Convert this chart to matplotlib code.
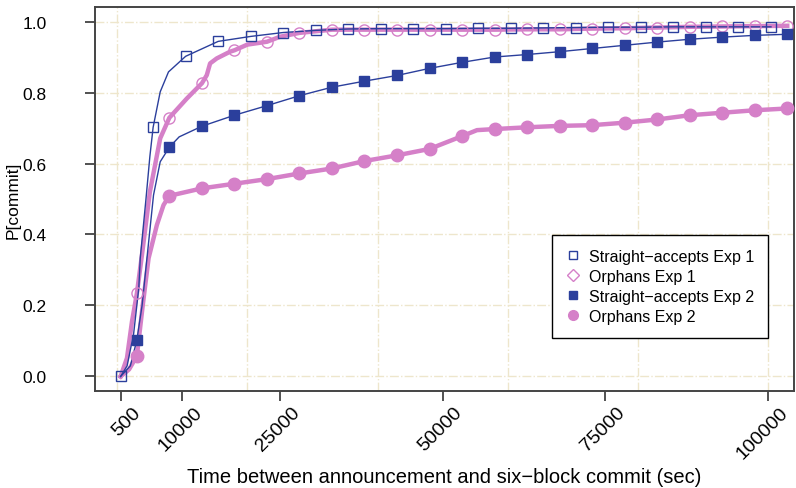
import matplotlib
matplotlib.use('Agg')
import matplotlib.pyplot as plt
import matplotlib.transforms as mtransforms
from matplotlib.lines import Line2D

plt.rcParams['font.family'] = ['Liberation Sans', 'DejaVu Sans']

# marker positions (sec) and values
mk_x1 = [500 + 5000 * k for k in range(21)]
mk_x2 = [3000 + 5000 * k for k in range(21)]

sa1_mk = [0.0, 0.702, 0.902, 0.944, 0.958, 0.969, 0.975, 0.979, 0.980, 0.980, 0.980,
          0.981, 0.981, 0.982, 0.983, 0.984, 0.984, 0.985, 0.985, 0.985, 0.985]
or1_mk = [0.234, 0.729, 0.826, 0.919, 0.943, 0.968, 0.977, 0.977, 0.977, 0.977, 0.977,
          0.977, 0.978, 0.978, 0.980, 0.981, 0.983, 0.985, 0.986, 0.987, 0.988]
sa2_mk = [0.103, 0.646, 0.705, 0.736, 0.763, 0.791, 0.815, 0.832, 0.848, 0.868, 0.885,
          0.900, 0.907, 0.915, 0.924, 0.933, 0.942, 0.950, 0.956, 0.961, 0.964]
or2_mk = [0.058, 0.509, 0.530, 0.543, 0.556, 0.572, 0.586, 0.607, 0.623, 0.641, 0.677,
          0.697, 0.702, 0.706, 0.708, 0.715, 0.724, 0.736, 0.743, 0.750, 0.755]

# extra curve points between the markers (mostly the steep start)
sa1_pts_x = [1500, 2500, 3300, 3520, 4400, 5000, 6590, 7860]
sa1_pts_y = [0.03, 0.12, 0.25, 0.333, 0.50, 0.62, 0.802, 0.858]
or1_pts_x = [500, 1480, 2250, 3780, 5000, 6590, 10680, 13750, 14260, 15280, 17330, 20000, 25000]
or1_pts_y = [0.0, 0.052, 0.155, 0.342, 0.52, 0.671, 0.783, 0.849, 0.882, 0.896, 0.915, 0.935, 0.957]
sa2_pts_x = [500, 2000, 3800, 4550, 5560, 6590, 9500]
sa2_pts_y = [0.0, 0.03, 0.20, 0.333, 0.511, 0.605, 0.675]
or2_pts_x = [500, 1800, 3900, 4800, 6080, 7100, 55300]
or2_pts_y = [0.0, 0.02, 0.20, 0.333, 0.427, 0.483, 0.694]

blue = '#2B3F9C'
pink = '#D580C8'


def curve(px, py, mx, my):
    pts = sorted(list(zip(px, py)) + list(zip(mx, my)))
    return [p[0] for p in pts], [p[1] for p in pts]


fig = plt.figure(figsize=(7.96, 4.89), dpi=100)
ax = fig.add_axes([0.119, 0.199, 0.878, 0.784])

for gx in range(0, 100001, 20000):
    ax.axvline(gx, color='#EEE6CC', lw=1, ls='-.', zorder=0)
for gy in [0, 0.2, 0.4, 0.6, 0.8, 1.0]:
    ax.axhline(gy, color='#EEE6CC', lw=1, ls='-.', zorder=0)

x, y = curve(sa1_pts_x, sa1_pts_y, mk_x1, sa1_mk)
ax.plot(x, y, color=blue, lw=1.0, zorder=3)
ax.plot(mk_x1, sa1_mk, ls='none', marker='s', ms=7, mfc='none', mec=blue, mew=1, zorder=4)

x, y = curve(or1_pts_x, or1_pts_y, mk_x2, or1_mk)
ax.plot(x, y, color=pink, lw=3.2, zorder=2)
ax.plot(mk_x2, or1_mk, ls='none', marker='o', ms=8, mfc='none', mec=pink, mew=1, zorder=4)

x, y = curve(sa2_pts_x, sa2_pts_y, mk_x2, sa2_mk)
ax.plot(x, y, color=blue, lw=1.0, zorder=3)
ax.plot(mk_x2, sa2_mk, ls='none', marker='s', ms=7.5, color=blue, zorder=4)

x, y = curve(or2_pts_x, or2_pts_y, mk_x2, or2_mk)
ax.plot(x, y, color=pink, lw=3.2, zorder=2)
ax.plot(mk_x2, or2_mk, ls='none', marker='o', ms=9, color=pink, zorder=4)

ax.set_xlim(-3480, 103980)
ax.set_ylim(-0.04, 1.04)
ax.set_xticks([500, 10000, 25000, 50000, 75000, 100000])
ax.set_xticklabels(['500', '10000', '25000', '50000', '75000', '100000'],
                   rotation=45, ha='right', va='center', rotation_mode='anchor')
ax.set_yticks([0, 0.2, 0.4, 0.6, 0.8, 1.0])
ax.set_yticklabels(['0.0', '0.2', '0.4', '0.6', '0.8', '1.0'])
ax.tick_params(direction='out', length=7.5, width=1.2, color='#333333')
ax.tick_params(axis='x', pad=6, labelsize=14)
ax.tick_params(axis='y', pad=27, labelsize=12.5)
shift = mtransforms.ScaledTranslation(12.5 / 72, 0, fig.dpi_scale_trans)
for lab in ax.get_xticklabels():
    lab.set_transform(lab.get_transform() + shift)
for s in ax.spines.values():
    s.set_color('#444444')
    s.set_linewidth(1.4)
ax.set_xlabel('Time between announcement and six\u2212block commit (sec)', fontsize=14.5)
ax.xaxis.set_label_coords(0.5, -0.2)
ax.set_ylabel('P[commit]', fontsize=12.5)
ax.yaxis.set_label_coords(-0.106, 0.5)

handles = [
    Line2D([], [], ls='none', marker='s', ms=6, mfc='none', mec=blue, mew=1),
    Line2D([], [], ls='none', marker='D', ms=6, mfc='none', mec=pink, mew=1),
    Line2D([], [], ls='none', marker='s', ms=6, color=blue),
    Line2D([], [], ls='none', marker='o', ms=7, color=pink),
]
labels = ['Straight\u2212accepts Exp 1', 'Orphans Exp 1',
          'Straight\u2212accepts Exp 2', 'Orphans Exp 2']
leg = ax.legend(handles, labels, loc='upper left', bbox_to_anchor=(0.655, 0.406),
                frameon=True, fancybox=False, edgecolor='black', framealpha=1,
                fontsize=11.5, handlelength=0.8, handletextpad=0.6, labelspacing=0.31,
                borderpad=0.87, borderaxespad=0)
leg.get_frame().set_linewidth(1.0)

fig.savefig('out.png', dpi=100)
